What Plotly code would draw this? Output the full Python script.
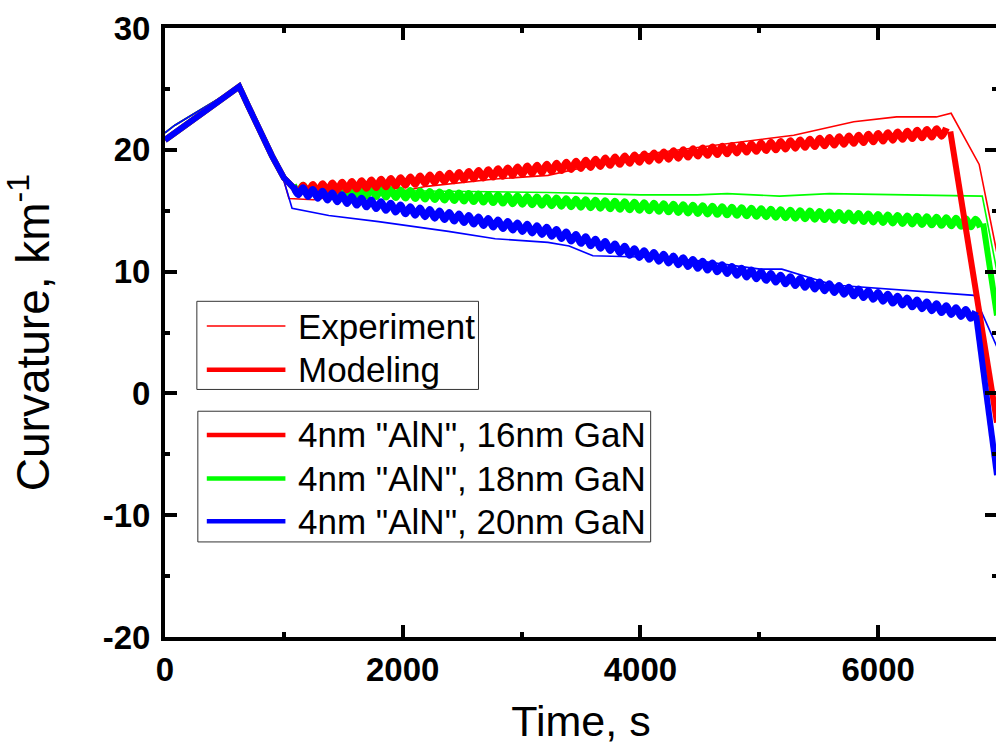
import numpy as np
import plotly.graph_objects as go

# ---- curvature vs. time (t in s, curvature in km^-1) ----

# shared start of the run: ramp up, then cool-down to growth temperature
model_ramp_t = [0, 624, 700, 800, 900, 1000, 1080]
model_ramp_k = [20.8, 25.2, 23.6, 21.5, 19.5, 17.7, 16.9]

exp_ramp_t = [0, 80, 624, 700, 800, 900, 990]
exp_ramp_k = [21.4, 22.0, 25.2, 23.6, 21.5, 19.5, 17.8]

# measured curvature after growth start
exp16_t = [1043, 1250, 1500, 2049, 2200, 2778, 3222, 4000, 4478, 5290, 5795, 6155, 6490, 6614, 6850, 6950, 7000]
exp16_k = [16.0, 15.9, 16.3, 16.7, 17.0, 17.6, 17.9, 19.6, 20.2, 21.2, 22.3, 22.7, 22.7, 23.0, 18.8, 13.9, 11.5]

exp18_t = [1060, 1500, 2441, 3222, 4000, 4478, 4730, 5170, 5590, 6490, 6876, 6960, 7000]
exp18_k = [16.9, 16.7, 16.6, 16.5, 16.3, 16.3, 16.4, 16.2, 16.4, 16.3, 16.2, 12.0, 10.0]

exp20_t = [1069, 1378, 1797, 2384, 2778, 3222, 3400, 3600, 4000, 4478, 5007, 5190, 5626, 6808, 6958, 7000]
exp20_k = [15.2, 14.6, 14.1, 13.3, 12.7, 12.4, 12.1, 11.3, 11.2, 10.9, 10.2, 10.2, 8.9, 8.05, 4.7, 3.8]

# modeled curvature: drift of the superlattice growth stage
sl_period = 82.0   # s, one AlN/GaN pair
sl_swing = 0.32    # km^-1, half swing within one pair

model16_t = [1080, 2005, 3222, 4478, 5985, 6607]
model16_k = [16.7, 17.4, 18.5, 19.8, 21.0, 21.5]
model16_cool_t = [6607, 7000]
model16_cool_k = [21.5, -2.4]

model18_t = [1080, 1547, 3222, 4478, 6884]
model18_k = [16.8, 16.6, 15.75, 15.1, 13.95]
model18_cool_t = [6884, 7000]
model18_cool_k = [13.95, 6.4]

model20_t = [1080, 2005, 3222, 3975, 4478, 5985, 6824]
model20_k = [16.7, 15.1, 13.3, 11.5, 10.6, 8.0, 6.4]
model20_cool_t = [6824, 7000]
model20_cool_k = [6.4, -6.7]

series_names = ['4nm "AlN", 16nm GaN', '4nm "AlN", 18nm GaN', '4nm "AlN", 20nm GaN']
series_colors = ['#FF0000', '#00FF00', '#0000FF']

x_ticks = [0, 2000, 4000, 6000]
y_ticks = [-20, -10, 0, 10, 20, 30]


def superlattice(trend_t, trend_k):
    """Layer-by-layer curvature of the AlN/GaN stack: one value per layer end."""
    half = sl_period / 2.0
    n = int((trend_t[-1] - trend_t[0]) // half)
    t = trend_t[0] + np.arange(n + 1) * half
    sign = np.where(np.arange(n + 1) % 2 == 0, 1.0, -1.0)
    k = np.interp(t, trend_t, trend_k) + sl_swing * sign
    return t, k


FONT = "Liberation Sans, Arial, sans-serif"
fig = go.Figure()

# measured curves (thin)
for t, k, c in [(exp16_t, exp16_k, series_colors[0]),
                (exp18_t, exp18_k, series_colors[1]),
                (exp20_t, exp20_k, series_colors[2])]:
    fig.add_trace(go.Scatter(x=exp_ramp_t + t, y=exp_ramp_k + k, mode="lines",
                             line=dict(color=c, width=1.6), showlegend=False,
                             hoverinfo="skip"))

# modeled curves (thick, oscillating with each superlattice period)
models = [(model18_t, model18_k, model18_cool_t, model18_cool_k, series_colors[1]),
          (model16_t, model16_k, model16_cool_t, model16_cool_k, series_colors[0]),
          (model20_t, model20_k, model20_cool_t, model20_cool_k, series_colors[2])]
for mt, mk, ct, ck, c in models:
    fig.add_trace(go.Scatter(x=model_ramp_t, y=model_ramp_k, mode="lines",
                             line=dict(color=c, width=6), showlegend=False,
                             hoverinfo="skip"))
    st, sk = superlattice(mt, mk)
    fig.add_trace(go.Scatter(x=st, y=sk, mode="lines",
                             line=dict(color=c, width=7, shape="spline", smoothing=1.0),
                             showlegend=False, hoverinfo="skip"))
    fig.add_trace(go.Scatter(x=ct, y=ck, mode="lines",
                             line=dict(color=c, width=6), showlegend=False,
                             hoverinfo="skip"))

# ---- plot frame geometry (pixels) ----
L, R, T, B = 165, 1001, 22, 637
W, H = 1011, 751


def px(x):
    return (x - L) / (R - L)


def py(y):
    return (B - y) / (B - T)


shapes = []
annotations = []


def legend_box(x0, y0, x1, y1):
    shapes.append(dict(type="rect", xref="paper", yref="paper",
                       x0=px(x0), x1=px(x1), y0=py(y0), y1=py(y1),
                       line=dict(color="#333333", width=1), fillcolor="white",
                       layer="above"))


def legend_row(y, color, width, text):
    shapes.append(dict(type="line", xref="paper", yref="paper",
                       x0=px(207), x1=px(286), y0=py(y), y1=py(y),
                       line=dict(color=color, width=width), layer="above"))
    annotations.append(dict(xref="paper", yref="paper", x=px(297), y=py(y),
                            xanchor="left", yanchor="middle", showarrow=False,
                            text=text, font=dict(family=FONT, size=35, color="black")))


legend_box(197, 298, 480, 387)
legend_row(323, "#FF0000", 1.6, "Experiment")
legend_row(367, "#FF0000", 4.5, "Modeling")

legend_box(198, 409, 653, 541)
for yy, name, c in zip([433, 477, 520], series_names, series_colors):
    legend_row(yy, c, 4.5, name)

axis_common = dict(showgrid=False, zeroline=False, showline=True, linecolor="black",
                   linewidth=4, mirror="ticks", ticks="inside", ticklen=12, tickwidth=3.5,
                   tickcolor="black",
                   tickfont=dict(family=FONT, size=33, color="black", weight="bold"))

fig.update_layout(
    width=W, height=H, autosize=False,
    margin=dict(l=L, r=W - R, t=T, b=H - B),
    paper_bgcolor="white", plot_bgcolor="white",
    showlegend=False,
    shapes=shapes, annotations=annotations,
    xaxis=dict(range=[0, 7000], tickvals=x_ticks, ticktext=[str(v) for v in x_ticks],
               title=dict(text="Time, s", standoff=20,
                          font=dict(family=FONT, size=43, color="black")),
               minor=dict(dtick=1000, ticks="inside", ticklen=5, tickwidth=3.5,
                          tickcolor="black", showgrid=False),
               **axis_common),
    yaxis=dict(range=[-20, 30], tickvals=y_ticks, ticktext=[str(v) for v in y_ticks],
               ticklabelstandoff=4,
               title=dict(text="Curvature, km<sup>-1</sup>", standoff=40,
                          font=dict(family=FONT, size=46, color="black")),
               minor=dict(dtick=5, ticks="inside", ticklen=5, tickwidth=3.5,
                          tickcolor="black", showgrid=False),
               **axis_common),
)

fig.write_html("out.html",
               post_script="document.documentElement.style.overflow='hidden';"
                           "document.body.style.overflow='hidden';"
                           "document.body.style.margin='0';")
